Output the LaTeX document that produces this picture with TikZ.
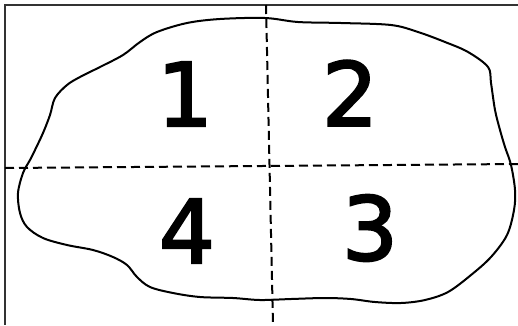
\documentclass[tikz,border=0pt]{standalone}
\usepackage{fontspec}
\newfontfamily\digitfont[FakeBold=2.5]{DejaVu Sans}
\begin{document}
\begin{tikzpicture}[x=1pt,y=-1pt,
  frame/.style={draw=black!80,line width=2.2pt},
  blob/.style={draw=black,line width=2pt,line join=round},
  divider/.style={draw=black,line width=2pt,dash pattern=on 9pt off 5pt},
  digit/.style={inner sep=0pt,font=\digitfont\fontsize{88}{88}\selectfont}]
\useasboundingbox (0,0) rectangle (518,325);
\fill[white] (0,0) rectangle (518,325);
\coordinate (ftr) at (518,5);
\coordinate (ftl) at (5,5);
\coordinate (fbl) at (5,325);
\draw[frame] (ftr) -- (ftl) -- (fbl);
\draw[blob] plot[smooth cycle,tension=0.55] coordinates {
(265,18) (298,22) (341,23) (391,25) (418,32) (445,42) (468,52) (488,67)
(491,83) (495,110) (500,130) (505,147) (511,165) (515,190) (514,210)
(507,235) (491,257) (471,275) (448,292) (425,300) (401,303) (375,302)
(351,299) (325,298) (291,299) (260,300) (233,298) (200,297) (173,293)
(150,287) (137,277) (127,265) (113,257) (93,250) (67,245) (43,238)
(27,227) (20,213) (18,193) (23,173) (30,160) (35,150) (43,133) (50,115)
(55,98) (67,85) (80,77) (100,67) (123,55) (140,42) (157,32) (187,23) (220,19)};
\coordinate (hl) at (5,168);
\coordinate (hr) at (518,164);
\coordinate (vt) at (266,5);
\coordinate (vb) at (273,325);
\draw[divider] (hl) -- (hr);
\draw[divider] (vt) -- (vb);
\node[digit] (d1) at (185,94) {1};
\node[digit] (d2) at (350,93) {2};
\node[digit] (d3) at (370,228) {3};
\node[digit] (d4) at (187,231) {4};
\end{tikzpicture}
\end{document}
